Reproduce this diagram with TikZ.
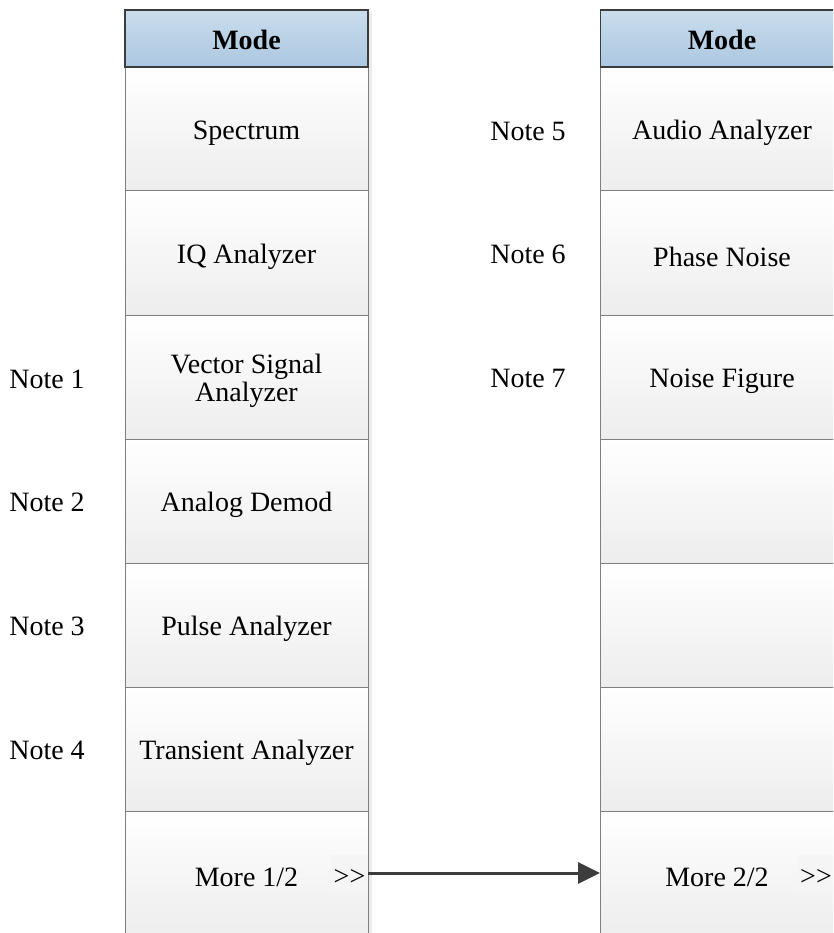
\documentclass[tikz,border=0pt]{standalone}
\usepackage{fontspec}
\setmainfont{Liberation Serif}
\usetikzlibrary{arrows.meta}
\definecolor{hdrtop}{HTML}{CADDED}
\definecolor{hdrbot}{HTML}{ABC7E0}
\definecolor{cellbot}{HTML}{EDEDED}
\definecolor{edgegray}{HTML}{7F7F7F}
\definecolor{darkgray}{HTML}{3C3C3C}
\newcommand{\gtgt}{>\kern0pt>}
\begin{document}
\begin{tikzpicture}[x=1pt,y=-1pt,
 every node/.style={font=\fontsize{28}{28}\selectfont, inner sep=0pt},
 hdr/.style={draw=darkgray, line width=1.3pt, top color=hdrtop, bottom color=hdrbot,
   minimum width=243pt, minimum height=57pt},
 hdrtext/.style={font=\fontsize{28}{28}\selectfont\bfseries, yshift=-1pt},
 cell/.style={draw=edgegray, line width=1pt, top color=white, bottom color=cellbot,
   minimum width=243pt, minimum height=124pt},
 lbl/.style={align=center, yshift=-4pt},
 note/.style={yshift=-1pt},
 morebox/.style={fill=black!4, minimum width=37pt, minimum height=37pt},
 link/.style={draw=darkgray, line width=3pt, -{Triangle[length=22pt,width=21pt]}}]
\useasboundingbox (0,0) rectangle (833,933);
\clip (0,0) rectangle (833,933);
% shadow of left column
\fill[black!8] (369,12) rectangle (372,933);
% left column
\node[cell] (l1) at (246.5,129) {};
\node[cell] (l2) at (246.5,253) {};
\node[cell] (l3) at (246.5,377) {};
\node[cell] (l4) at (246.5,501) {};
\node[cell] (l5) at (246.5,625) {};
\node[cell] (l6) at (246.5,749) {};
\node[cell] (l7) at (246.5,873) {};
\node[hdr] (lh) at (246.5,38.5) {};
\node[hdrtext] (lht) at (lh) {Mode};
\node[lbl] (t1) at (l1) {Spectrum};
\node[lbl] (t2) at (l2) {IQ Analyzer};
\node[lbl] (t3) at (l3) {Vector Signal\\Analyzer};
\node[lbl] (t4) at (l4) {Analog Demod};
\node[lbl] (t5) at (l5) {Pulse Analyzer};
\node[lbl] (t6) at (l6) {Transient Analyzer};
\node[lbl] (lmore) at (l7) {More 1/2};
\node[morebox] (m1) at (349.5,873) {};
\node[lbl] (m1t) at (m1) {\gtgt};
% right column
\node[cell] (r1) at (722,129) {};
\node[cell] (r2) at (722,253) {};
\node[cell] (r3) at (722,377) {};
\node[cell] (r4) at (722,501) {};
\node[cell] (r5) at (722,625) {};
\node[cell] (r6) at (722,749) {};
\node[cell] (r7) at (722,873) {};
\node[hdr] (rh) at (722,38.5) {};
\node[hdrtext] (rht) at (rh) {Mode};
\node[lbl] (s1) at (r1) {Audio Analyzer};
\node[lbl] (s2) at (r2) {Phase Noise};
\node[lbl] (s3) at (r3) {Noise Figure};
\node[lbl] (rmore) at (717,873) {More 2/2};
\node[morebox] (m2) at (816,873) {};
\node[lbl] (m2t) at (m2) {\gtgt};
% notes
\node[note] (n1) at (47,378) {Note 1};
\node[note] (n2) at (47,501) {Note 2};
\node[note] (n3) at (47,625) {Note 3};
\node[note] (n4) at (47,749) {Note 4};
\node[note] (n5) at (528,130) {Note 5};
\node[note] (n6) at (528,253) {Note 6};
\node[note] (n7) at (528,377) {Note 7};
% connector
\draw[link] (m1.east) -- (r7.west);
\end{tikzpicture}
\end{document}
